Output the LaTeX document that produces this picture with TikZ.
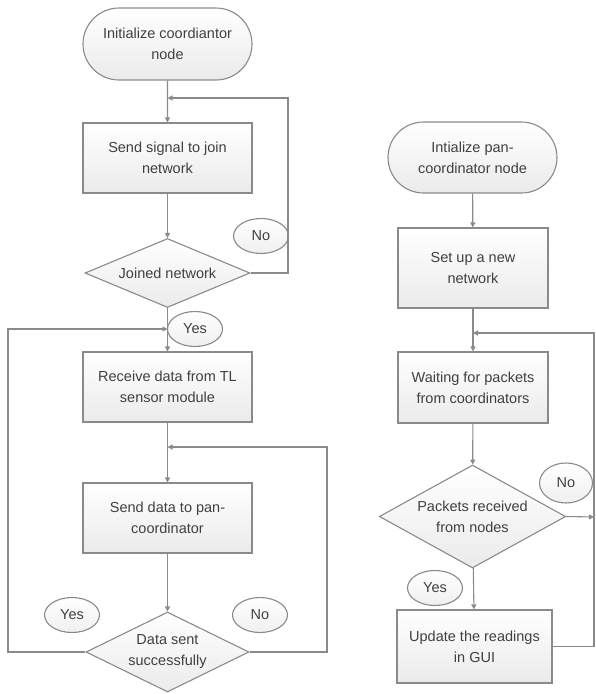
\documentclass[tikz,border=0pt]{standalone}
\usepackage{fontspec}
\setmainfont{Liberation Sans}
\usetikzlibrary{shapes.geometric,shapes.misc,arrows.meta}
\definecolor{ln}{HTML}{8A8A8A}
\definecolor{tx}{HTML}{404040}
\tikzset{
  base/.style={draw=ln, line width=1.1pt, text=tx, align=center, inner sep=0pt,
    font=\fontsize{14.5}{21}\selectfont, top color=white, bottom color=black!8},
  term/.style={base, rounded rectangle, minimum width=169pt, minimum height=72pt},
  proc/.style={base, rectangle, minimum width=169pt, minimum height=70pt},
  dec/.style={base, diamond, aspect=2.4},
  lbl/.style={base, ellipse, minimum width=55pt, minimum height=35pt, top color=white, bottom color=black!6},
  arr/.style={draw=ln, line width=1.1pt, -{Triangle[length=5pt,width=5pt]}},
  ln/.style={draw=ln, line width=1.1pt}
}
\begin{document}
\begin{tikzpicture}[x=1pt,y=-1pt]
\useasboundingbox (0,0) rectangle (595,694);
% left column
\node[term] (s1) at (167.5,44) {Initialize coordiantor\\node};
\node[proc] (b1) at (167.5,158) {Send signal to join\\network};
\node[dec, minimum width=165pt, minimum height=69pt] (d1) at (167.5,273) {Joined network};
\node[lbl] (no1) at (261,236) {No};
\node[lbl] (yes1) at (195,329) {Yes};
\node[proc] (b2) at (167.5,387) {Receive data from TL\\sensor module};
\node[proc] (b3) at (167.5,518) {Send data to pan-\\coordinator};
\node[dec, minimum width=163pt, minimum height=80pt] (d2) at (167.5,652) {Data sent\\successfully};
\node[lbl] (yes2) at (72,615) {Yes};
\node[lbl] (no2) at (260,615) {No};
\coordinate (j1) at (167.5,98);
\coordinate (c1) at (288,98);
\coordinate (j2) at (167.5,329);
\coordinate (c2) at (8,329);
\coordinate (j3) at (167.5,447);
\coordinate (c3) at (327,447);
% right column
\node[term, minimum width=169pt, minimum height=71pt] (s2) at (472.5,157.5) {Intialize pan-\\coordinator node};
\node[proc, minimum width=150pt, minimum height=80pt] (r1) at (473,268) {Set up a new\\network};
\node[proc, minimum width=150pt, minimum height=71pt] (r2) at (473,387.5) {Waiting for packets\\from coordinators};
\node[dec, minimum width=171pt, minimum height=103pt] (d3) at (472.5,516.5) {Packets received\\from nodes};
\node[lbl, minimum width=53pt, minimum height=40pt] (no3) at (566,483) {No};
\node[lbl] (yes3) at (435,588) {Yes};
\node[proc, minimum width=155pt, minimum height=73pt] (r3) at (474.5,646.5) {Update the readings\\in GUI};
\coordinate (j4) at (473,333);
\coordinate (c4) at (594,333);
\coordinate (c5) at (594,517);
\coordinate (c6) at (594,646.5);
% connectors left
\draw[arr] (s1) -- (b1);
\draw[arr] (d1.east) -| (c1) -- (j1);
\draw[arr] (b1) -- (d1);
\draw[arr] (d1) -- (b2);
\draw[arr] (d2.west) -| (c2) -- (j2);
\draw[arr] (b2) -- (b3);
\draw[arr] (d2.east) -| (c3) -- (j3);
\draw[arr] (b3) -- (d2);
% connectors right
\draw[arr] (s2) -- (r1);
\draw[arr] (r1) -- (r2);
\draw[arr] (r2) -- (d3);
\draw[arr] (d3) -- (r3);
\draw[arr] (r3.east) -- (c6) -- (c4) -- (j4);
\draw[arr] (d3.east) -- (c5);
\end{tikzpicture}
\end{document}
